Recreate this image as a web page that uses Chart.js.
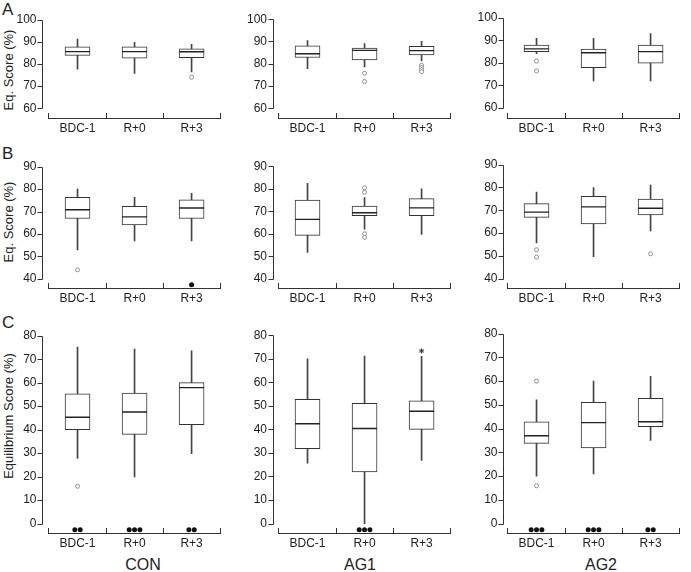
<!DOCTYPE html>
<html><head><meta charset="utf-8">
<script src="https://cdn.jsdelivr.net/npm/chart.js@4.4.1/dist/chart.umd.min.js"></script>
<style>
html,body{margin:0;padding:0;background:#fff;overflow:hidden;}
body{width:691px;height:572px;position:relative;font-family:"Liberation Sans",Arial,Helvetica,sans-serif;color:#222;}
canvas{position:absolute;}
.letter{position:absolute;font-size:17px;line-height:17px;white-space:nowrap;}
.ytitle{position:absolute;white-space:nowrap;font-size:13px;line-height:13px;transform:translate(-50%,-50%) rotate(-90deg);}
.grp{position:absolute;font-size:16px;line-height:16px;white-space:nowrap;transform:translateX(-50%);}
</style></head><body>
<div class="letter" style="left:2px;top:1px;">A</div>
<div class="letter" style="left:2px;top:145px;">B</div>
<div class="letter" style="left:2px;top:314px;">C</div>
<div class="ytitle" style="left:8px;top:70px;">Eq. Score (%)</div>
<div class="ytitle" style="left:8px;top:222px;">Eq. Score (%)</div>
<div class="ytitle" style="left:8px;top:416px;">Equilibrium Score (%)</div>
<div class="grp" style="left:143px;top:557px;">CON</div>
<div class="grp" style="left:360px;top:557px;">AG1</div>
<div class="grp" style="left:601px;top:557px;">AG2</div>
<script>
// ---------------- data ----------------
const categories = ['BDC-1', 'R+0', 'R+3'];
const groups = ['CON', 'AG1', 'AG2'];
const ticksA = [60, 70, 80, 90, 100];
const ticksB = [40, 50, 60, 70, 80, 90];
const ticksC = [0, 10, 20, 30, 40, 50, 60, 70, 80];

// each box: [lower whisker, Q1, median, Q3, upper whisker]
const boxA_CON = [[77.7, 83.9, 85.6, 87.8, 91.2], [75.7, 82.6, 85.6, 87.8, 89.8], [76.4, 82.8, 85.5, 86.8, 88.9]];
const boxA_AG1 = [[77.8, 82.8, 84.5, 88.0, 90.4], [78.6, 81.7, 86.0, 87.0, 89.0], [81.3, 83.9, 85.9, 87.8, 90.1]];
const boxA_AG2 = [[84.1, 85.0, 86.2, 87.9, 90.9], [72.0, 77.9, 84.5, 86.1, 90.9], [72.0, 79.9, 85.0, 87.9, 93.0]];
const outA_CON = [[], [], [74]];
const outA_AG1 = [[], [75.7, 72], [79.3, 78.3, 77.3, 76.4]];
const outA_AG2 = [[80.8, 76.4], [], []];

const boxB_CON = [[52.9, 66.9, 70.8, 76.3, 80.0], [56.9, 64.0, 67.6, 72.3, 76.3], [56.9, 66.9, 71.6, 75.2, 78.1]];
const boxB_AG1 = [[51.7, 59.3, 66.4, 74.9, 82.4], [62.0, 68.0, 69.3, 72.3, 76.1], [59.7, 68.0, 71.5, 75.6, 80.0]];
const boxB_AG2 = [[55.7, 66.9, 69.2, 72.9, 78.0], [49.7, 64.0, 71.5, 76.1, 80.0], [60.9, 68.0, 70.9, 74.9, 81.1]];
const outB_CON = [[44], [], []];
const outB_AG1 = [[], [80.4, 78.4, 60, 58.4], []];
const outB_AG2 = [[52.7, 49.5], [], [50.9]];

const boxC_CON = [[27.8, 40.0, 45.3, 55.2, 75.2], [19.9, 38.0, 47.5, 55.6, 74.3], [29.8, 42.1, 57.9, 60.0, 73.6]];
const boxC_AG1 = [[25.7, 31.8, 42.4, 52.8, 70.0], [0.0, 21.9, 40.4, 51.1, 71.1], [26.8, 40.0, 47.7, 52.1, 71.0]];
const boxC_AG2 = [[19.9, 33.8, 37.0, 42.9, 52.1], [20.9, 31.9, 42.5, 51.1, 60.0], [35.0, 40.8, 42.9, 52.8, 62.0]];
const outC_CON = [[15.9], [], []];
const outC_AG1 = [[], [], []];
const outC_AG2 = [[60, 15.9], [], []];
const extC_AG1 = [[], [], [73.3]];   // extreme value (asterisk)

// number of cases below the axis range (filled dots)
const belowB_CON = [0, 0, 1];
const belowC_CON = [2, 3, 2];
const belowC_AG1 = [0, 3, 0];
const belowC_AG2 = [3, 3, 2];
const none3 = [0, 0, 0];
const noOut = [[], [], []];

// ---------------- layout / style ----------------
const colLeft = [49, 279, 508];
const colGap = [7, 6.5, 5];
const yAxisW = 48, plotW = 182;
const rows = [
  { ticks: ticksA, min: 55.6, max: 100, top: 0, padTop: 6, plotH: 112, xH: 30,
    boxes: [boxA_CON, boxA_AG1, boxA_AG2], outs: [outA_CON, outA_AG1, outA_AG2],
    exts: [noOut, noOut, noOut], below: [none3, none3, none3] },
  { ticks: ticksB, min: 35.9, max: 90, top: 147, padTop: 6, plotH: 135, xH: 26,
    boxes: [boxB_CON, boxB_AG1, boxB_AG2], outs: [outB_CON, outB_AG1, outB_AG2],
    exts: [noOut, noOut, noOut], below: [belowB_CON, none3, none3] },
  { ticks: ticksC, min: -4, max: 80, top: 316, padTop: 6, plotH: 211, xH: 30,
    boxes: [boxC_CON, boxC_AG1, boxC_AG2], outs: [outC_CON, outC_AG1, outC_AG2],
    exts: [noOut, extC_AG1, noOut], below: [belowC_CON, belowC_AG1, belowC_AG2] }
];
const INK = '#333';

const yAxisLine = {
  id: 'yAxisLine',
  afterDraw(chart, args, opts) {
    const ys = chart.scales.y, ctx = chart.ctx;
    const x = Math.round(chart.chartArea.left - opts.gap) + 0.5;
    const vals = ys.ticks.map(t => t.value);
    const top = Math.round(ys.getPixelForValue(Math.max(...vals))) + 0.5;
    const bot = Math.round(ys.getPixelForValue(Math.min(...vals))) + 0.5;
    ctx.save();
    ctx.strokeStyle = opts.color; ctx.lineWidth = 1;
    ctx.beginPath();
    ctx.moveTo(x, top); ctx.lineTo(x, bot);
    vals.forEach(v => {
      const py = Math.round(ys.getPixelForValue(v)) + 0.5;
      ctx.moveTo(x - 5, py); ctx.lineTo(x, py);
    });
    ctx.stroke();
    ctx.restore();
  }
};
Chart.register(yAxisLine);

function pointsFrom(lists) {
  const pts = [];
  lists.forEach((arr, i) => arr.forEach(v => pts.push({ x: i, y: v })));
  return pts;
}
function belowPoints(counts, yVal) {
  const pts = [], step = 0.094;
  counts.forEach((n, i) => {
    for (let k = 0; k < n; k++) pts.push({ x: i + (k - (n - 1) / 2) * step, y: yVal });
  });
  return pts;
}

rows.forEach((row, r) => {
  for (let c = 0; c < 3; c++) {
    const cv = document.createElement('canvas');
    const W = yAxisW + plotW + 3;
    const H = row.padTop + row.plotH + row.xH;
    cv.width = W; cv.height = H;
    cv.style.width = W + 'px'; cv.style.height = H + 'px';
    cv.style.left = (colLeft[c] - yAxisW) + 'px';
    cv.style.top = row.top + 'px';
    document.body.appendChild(cv);
    const box = row.boxes[c];
    const gap = colGap[c];
    const tickVals = row.ticks;
    new Chart(cv, {
      type: 'bar',
      data: {
        labels: categories,
        datasets: [
          { label: 'whisker', xAxisID: 'x', yAxisID: 'y', data: box.map(b => [b[0], b[4]]),
            backgroundColor: '#444', borderWidth: 0, barThickness: 1, grouped: false, order: 5 },
          { label: 'box', xAxisID: 'x', yAxisID: 'y', data: box.map(b => [b[1], b[3]]),
            backgroundColor: '#fff', borderColor: INK, borderWidth: 1, borderSkipped: false,
            barThickness: 25, grouped: false, order: 4 },
          { type: 'line', label: 'median', xAxisID: 'x', yAxisID: 'y', data: box.map(b => b[2]),
            showLine: false, pointStyle: 'line', pointRadius: 12.5, pointHoverRadius: 12.5,
            borderColor: '#222', borderWidth: 1.4, order: 3 },
          { type: 'scatter', label: 'outliers', xAxisID: 'x2', yAxisID: 'y', data: pointsFrom(row.outs[c]),
            pointStyle: 'circle', pointRadius: 2, borderColor: '#777', borderWidth: 0.8,
            backgroundColor: '#fff', order: 2, clip: false },
          { type: 'scatter', label: 'extreme', xAxisID: 'x2', yAxisID: 'y', data: pointsFrom(row.exts[c]),
            pointStyle: 'star', pointRadius: 2.5, borderColor: INK, borderWidth: 1, order: 1, clip: false },
          { type: 'scatter', label: 'below', xAxisID: 'x2', yAxisID: 'y',
            data: belowPoints(row.below[c], tickVals[0] - 2.6),
            pointStyle: 'circle', pointRadius: 2.5, borderColor: '#111', backgroundColor: '#111',
            borderWidth: 0, order: 0, clip: false }
        ]
      },
      options: {
        responsive: false, animation: false, devicePixelRatio: 1,
        layout: { padding: { top: row.padTop, left: 0, right: 3, bottom: 0 } },
        plugins: { legend: { display: false }, tooltip: { enabled: false },
                   yAxisLine: { gap: gap, color: INK } },
        scales: {
          x: { type: 'category', offset: true, position: 'bottom',
               grid: { offset: true, drawOnChartArea: false, drawTicks: true, tickLength: -5, color: INK, lineWidth: 1 },
               border: { display: true, color: INK, width: 1 },
               ticks: { padding: 8, color: '#222', font: { size: 12 }, maxRotation: 0, autoSkip: false },
               afterFit(s) { s.height = row.xH; } },
          x2: { type: 'linear', display: false, position: 'bottom', offset: false,
                grid: { offset: false }, min: -0.5, max: 2.5, bounds: 'ticks' },
          y: { type: 'linear', min: row.min, max: row.max,
               border: { display: false },
               grid: { display: false, drawTicks: false },
               ticks: { padding: gap + 5.5, color: '#222', font: { size: 12 } },
               afterBuildTicks(s) { s.ticks = tickVals.map(v => ({ value: v })); },
               afterFit(s) { s.width = yAxisW; } }
        }
      }
    });
  }
});
</script>
</body></html>
